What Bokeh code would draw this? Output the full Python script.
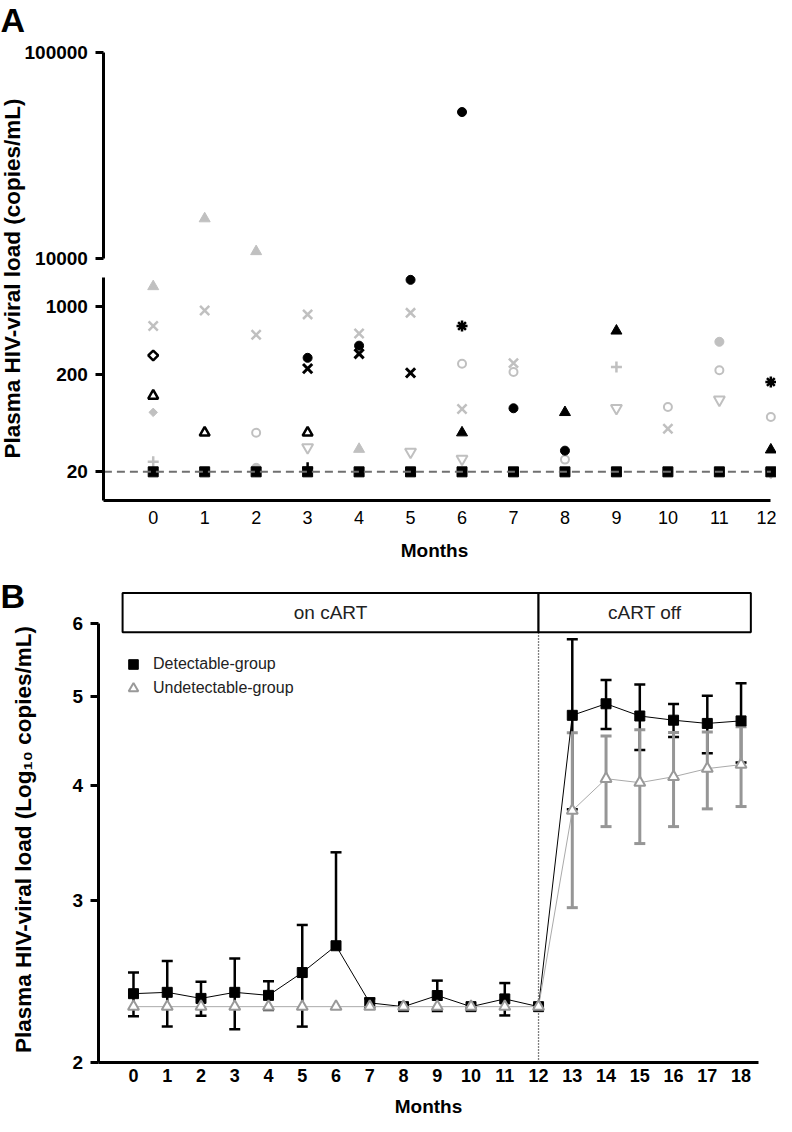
import math
from bokeh.plotting import figure
from bokeh.models import (Range1d, LogScale, LogAxis, FixedTicker, NumeralTickFormatter,
                          Label, ColumnDataSource, Whisker, TeeHead, Legend, LegendItem)
from bokeh.layouts import column
from bokeh.embed import file_html
from bokeh.resources import INLINE
from bokeh.core.properties import value

FONT = "Liberation Sans"
LGRAY = "#c0c0c0"
MGRAY = "#999999"

# ---------------- Panel A data (individual patients, copies/mL) ----------------
months_a = [0, 1, 2, 3, 4, 5, 6, 7, 8, 9, 10, 11, 12]
lower_ticks_a = [20, 200, 1000]
upper_ticks_a = [10000, 100000]
detection_limit = 20

blk_square_m = [0, 1, 2, 3, 4, 5, 6, 7, 8, 9, 10, 11, 12]
blk_square_v = [20, 20, 20, 20, 20, 20, 20, 20, 20, 20, 20, 20, 20]
blk_circle_m = [3, 4, 5, 6, 7, 8]
blk_circle_v = [297, 396, 1880, 51500, 90, 33]
blk_x_m = [3, 4, 5]
blk_x_v = [230, 327, 208]
blk_star_m = [6, 12]
blk_star_v = [631, 168]
blk_diamond_m = [0]
blk_diamond_v = [314]
blk_open_tri_m = [0, 1, 3]
blk_open_tri_v = [121, 50.5, 50.5]
blk_tri_m = [6, 8, 9, 12]
blk_tri_v = [50.5, 81.7, 562, 33.7]
blk_plus_m = [3]
blk_plus_v = [22]

gry_tri_m = [0, 1, 2, 4]
gry_tri_v = [1607, 15600, 10800, 34.2]
gry_x_m = [0, 1, 2, 3, 4, 5, 6, 7, 10]
gry_x_v = [631, 912, 512, 830, 528, 861, 88.3, 262, 55.4]
gry_diamond_m = [0]
gry_diamond_v = [81.7]
gry_plus_m = [0, 9]
gry_plus_v = [25.4, 239]
gry_open_circle_m = [2, 6, 7, 8, 10, 11, 12]
gry_open_circle_v = [50.5, 258, 212, 26.7, 92.7, 221, 73.3]
gry_down_tri_m = [3, 5, 6, 9, 11, 12]
gry_down_tri_v = [35.6, 32.1, 27.1, 90.4, 110, 20]
gry_circle_m = [2, 11]
gry_circle_v = [22, 434]

# ---------------- Panel B data (mean, SD of log10 copies/mL) ----------------
months_b = [0, 1, 2, 3, 4, 5, 6, 7, 8, 9, 10, 11, 12, 13, 14, 15, 16, 17, 18]
ticks_b = [2, 3, 4, 5, 6]
det_mean = [2.376, 2.384, 2.348, 2.384, 2.366, 2.505, 2.679, 2.322, 2.30, 2.365,
            2.30, 2.345, 2.30, 4.77, 4.91, 4.762, 4.712, 4.674, 4.704]
det_sd = [0.13, 0.195, 0.10, 0.21, 0.085, 0.317, 0.706, 0.026, 0.0, 0.09,
          0.0, 0.095, 0.0, 1.0, 0.30, 0.39, 0.195, 0.337, 0.466]
und_mean = [2.3, 2.3, 2.3, 2.3, 2.3, 2.3, 2.3, 2.3, 2.3, 2.3, 2.3, 2.3, 2.3,
            3.757, 4.07, 4.03, 4.09, 4.174, 4.216]
und_sd = [0, 0, 0, 0, 0, 0, 0, 0, 0, 0, 0, 0, 0, 0.81, 0.46, 0.57, 0.48, 0.40, 0.42]
phase_names = ["on cART", "cART off"]
phase_start = [-0.323, 12]
phase_end = [12, 18.29]
cart_stop = 12


def style_axis(ax, size, bold):
    ax.axis_line_width = 3
    ax.axis_line_color = "black"
    ax.major_tick_line_width = 3
    ax.major_tick_line_color = "black"
    ax.major_tick_in = 0
    ax.minor_tick_in = 0
    ax.minor_tick_out = 0
    ax.major_label_text_font = FONT
    ax.major_label_text_font_size = size
    ax.major_label_text_font_style = "bold" if bold else "normal"
    ax.major_label_text_color = "black"


def add_label(p, x, y, text, size, bold=True, angle=0.0, align="center", baseline="middle",
              color="black"):
    p.add_layout(Label(x=x, y=y, x_units="screen", y_units="screen", text=text, angle=angle,
                       text_font=FONT, text_font_style="bold" if bold else "normal",
                       text_font_size=size, text_align=align, text_baseline=baseline,
                       text_color=color))


# ======================= Panel A =======================
AXA = -0.958          # x position of the y axis (months)
XAXA = 10.14          # y position of the x axis (copies/mL)
pa = figure(width=776, height=568, output_backend="svg", toolbar_location=None,
            x_range=Range1d(-2.967, 12.11), y_range=Range1d(2.03, 1.397e6), y_axis_type="log",
            min_border=0, min_border_left=0, min_border_right=0, min_border_top=0,
            min_border_bottom=0)
pa.extra_y_ranges = {"upper": Range1d(309.5, 179700)}
pa.extra_y_scales = {"upper": LogScale()}
pa.outline_line_color = None
pa.xgrid.visible = False
pa.ygrid.visible = False

ya = pa.yaxis[0]
style_axis(ya, "19px", True)
ya.fixed_location = AXA
ya.ticker = FixedTicker(ticks=lower_ticks_a)
ya.formatter = NumeralTickFormatter(format="0")
ya.bounds = (XAXA, 1986)
ya.major_tick_out = 8
ya.major_label_standoff = 8

ax_up = LogAxis(y_range_name="upper", fixed_location=AXA, bounds=(10000, 100000),
                ticker=FixedTicker(ticks=upper_ticks_a), formatter=NumeralTickFormatter(format="0"))
style_axis(ax_up, "19px", True)
ax_up.major_tick_out = 8
ax_up.major_label_standoff = 8
pa.add_layout(ax_up, "left")

xa = pa.xaxis[0]
style_axis(xa, "18px", False)
xa.fixed_location = XAXA
xa.ticker = FixedTicker(ticks=months_a)
xa.bounds = (AXA, months_a[-1])
xa.major_tick_out = 0
xa.major_label_standoff = 10

BREAK = 5000
series_a = [
    (gry_x_m, gry_x_v, dict(marker="x", size=13, line_color=LGRAY, line_width=2.5)),
    (gry_tri_m, gry_tri_v, dict(marker="triangle", size=11, fill_color=LGRAY, line_color=LGRAY)),
    (gry_diamond_m, gry_diamond_v, dict(marker="square", angle=math.pi / 4, size=6,
                                        fill_color=LGRAY, line_color=LGRAY)),
    (gry_plus_m, gry_plus_v, dict(marker="cross", size=11, line_color=LGRAY, line_width=2.5)),
    (gry_open_circle_m, gry_open_circle_v, dict(marker="circle", size=8, fill_color="white",
                                                line_color=LGRAY, line_width=2)),
    (gry_down_tri_m, gry_down_tri_v, dict(marker="inverted_triangle", size=11, fill_color="white",
                                          line_color=LGRAY, line_width=2)),
    (gry_circle_m, gry_circle_v, dict(marker="circle", size=9, fill_color=LGRAY, line_color=LGRAY)),
    (blk_square_m, blk_square_v, dict(marker="square", size=10, fill_color="black", line_color="black")),
    (blk_circle_m, blk_circle_v, dict(marker="circle", size=9, fill_color="black", line_color="black")),
    (blk_x_m, blk_x_v, dict(marker="x", size=13, line_color="black", line_width=3)),
    (blk_star_m, blk_star_v, dict(marker="asterisk", size=11, line_color="black", line_width=2.5)),
    (blk_diamond_m, blk_diamond_v, dict(marker="square", angle=math.pi / 4, size=7, fill_color="white",
                                        line_color="black", line_width=2.5)),
    (blk_open_tri_m, blk_open_tri_v, dict(marker="triangle", size=10, fill_color="white",
                                          line_color="black", line_width=2.5)),
    (blk_tri_m, blk_tri_v, dict(marker="triangle", size=11, fill_color="black", line_color="black")),
    (blk_plus_m, blk_plus_v, dict(marker="cross", size=11, line_color="black", line_width=2.5)),
]
for mm, vv, st in series_a:
    lo = [(m, v) for m, v in zip(mm, vv) if v < BREAK]
    hi = [(m, v) for m, v in zip(mm, vv) if v >= BREAK]
    if lo:
        pa.scatter([m for m, _ in lo], [v for _, v in lo], **st)
    if hi:
        pa.scatter([m for m, _ in hi], [v for _, v in hi], y_range_name="upper", **st)

# detection limit (dashed)
pa.segment(x0=[AXA], y0=[detection_limit], x1=[months_a[-1]], y1=[detection_limit],
           line_color="#707070", line_width=2, line_dash="8 5")

add_label(pa, 0, 549, "A", "34px", align="left", baseline="alphabetic")
add_label(pa, 12, 290, "Plasma HIV-viral load (copies/mL)", "22.5px", angle=math.pi / 2)
add_label(pa, 434, 18, "Months", "19px")

# ======================= Panel B =======================
AXB = -1.022
pb = figure(width=776, height=548, output_backend="svg", toolbar_location=None,
            x_range=Range1d(-3.94, 19.05), y_range=Range1d(1.747, 6.889), y_axis_type="log",
            min_border=0, min_border_left=0, min_border_right=0, min_border_top=0,
            min_border_bottom=0)
pb.outline_line_color = None
pb.xgrid.visible = False
pb.ygrid.visible = False

yb = pb.yaxis[0]
style_axis(yb, "19px", True)
yb.fixed_location = AXB
yb.ticker = FixedTicker(ticks=ticks_b)
yb.formatter = NumeralTickFormatter(format="0")
yb.bounds = (ticks_b[0], ticks_b[-1])
yb.major_tick_out = 8
yb.major_label_standoff = 8

xb = pb.xaxis[0]
style_axis(xb, "18px", True)
xb.fixed_location = ticks_b[0]
xb.ticker = FixedTicker(ticks=months_b)
xb.bounds = (AXB, 18.53)
xb.major_tick_out = 0
xb.major_label_standoff = 7

# phase boxes
box_bottom, box_top = 5.871, 6.479
pb.quad(left=phase_start, right=phase_end, bottom=[box_bottom] * 2, top=[box_top] * 2,
        fill_color="white", line_color="black", line_width=2)
pb.text(x=[(a + b) / 2 for a, b in zip(phase_start, phase_end)],
        y=[math.sqrt(box_bottom * box_top)] * 2, text=phase_names,
        text_font=value(FONT), text_font_size="19px", text_color="#222222",
        text_align="center", text_baseline="middle")
pb.segment(x0=[cart_stop], y0=[ticks_b[0]], x1=[cart_stop], y1=[box_bottom],
           line_color="black", line_width=1.3, line_dash="1 2")


def add_whiskers(p, x, mean, sd, color, lw):
    ub, ul, uu, lb, ll, lu = [], [], [], [], [], []
    for xi, m, s in zip(x, mean, sd):
        if s <= 0:
            continue
        ub.append(xi); ul.append(m); uu.append(m + s)
        if m - s >= ticks_b[0]:
            lb.append(xi); ll.append(m - s); lu.append(m)
    up = Whisker(source=ColumnDataSource(dict(base=ub, lower=ul, upper=uu)),
                 base="base", lower="lower", upper="upper", dimension="height",
                 line_color=color, line_width=lw, lower_head=None,
                 upper_head=TeeHead(size=11, line_color=color, line_width=lw))
    dn = Whisker(source=ColumnDataSource(dict(base=lb, lower=ll, upper=lu)),
                 base="base", lower="lower", upper="upper", dimension="height",
                 line_color=color, line_width=lw, upper_head=None,
                 lower_head=TeeHead(size=11, line_color=color, line_width=lw))
    p.add_layout(up)
    p.add_layout(dn)


add_whiskers(pb, months_b, det_mean, det_sd, "black", 2.5)
add_whiskers(pb, months_b, und_mean, und_sd, "#969696", 3)

pb.line(months_b, det_mean, line_color="black", line_width=1)
r_det = pb.scatter(months_b, det_mean, marker="square", size=10, fill_color="black", line_color="black")
pb.line(months_b, und_mean, line_color="#aaaaaa", line_width=1)
r_und = pb.scatter(months_b, und_mean, marker="triangle", size=11, fill_color="white",
                   line_color=MGRAY, line_width=2)

legend = Legend(items=[LegendItem(label="Detectable-group", renderers=[r_det]),
                       LegendItem(label="Undetectable-group", renderers=[r_und])],
                location=(116, 416), orientation="vertical",
                glyph_width=34, glyph_height=24, spacing=0, padding=0, margin=0,
                label_standoff=3, label_text_font=FONT, label_text_font_size="16px",
                label_text_color="#222222", border_line_color=None, background_fill_alpha=0)
pb.add_layout(legend)

add_label(pb, 0, 521, "B", "34px", align="left", baseline="alphabetic")
add_label(pb, 23, 277, "Plasma HIV-viral load (Log\u2081\u2080 copies/mL)", "22.5px", angle=math.pi / 2)
add_label(pb, 428, 10, "Months", "19px")

layout = column(pa, pb, spacing=0)
open("out.html", "w").write(file_html(layout, INLINE))
